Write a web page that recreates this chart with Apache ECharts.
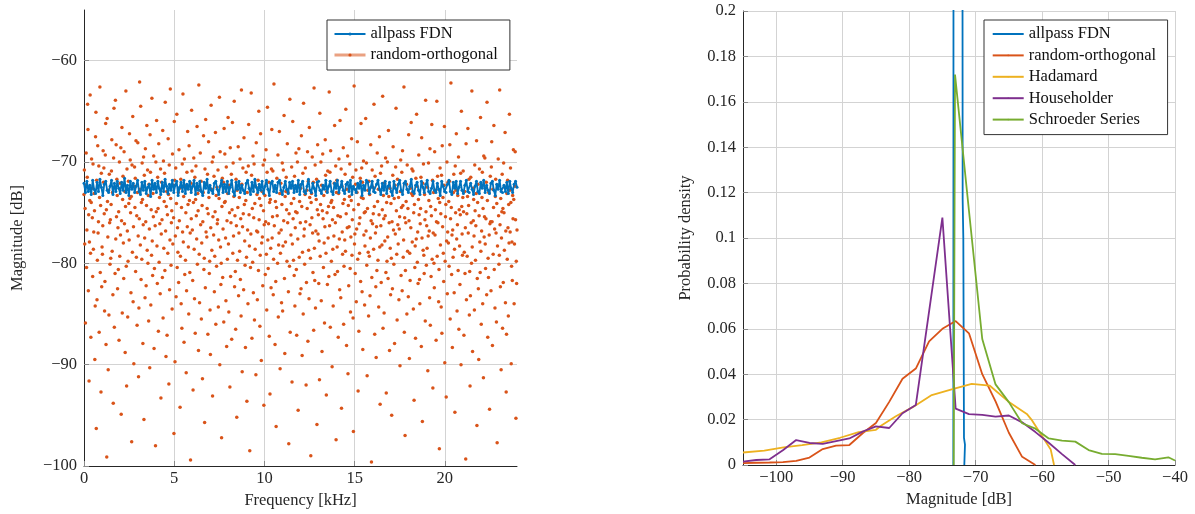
<!DOCTYPE html>
<html><head><meta charset="utf-8">
<script src="https://cdn.jsdelivr.net/npm/echarts@6/dist/echarts.min.js"></script>
<style>html,body{margin:0;padding:0;background:#fff}#c{width:1195px;height:514px}</style>
</head><body><div id="c"></div>
<script>
// ---------- Left plot: magnitude response per frequency bin ----------
const freqRangeKHz = [0, 24];
const allpassMagDb = [
-72.1,-73.0,-71.9,-72.9,-72.3,-73.2,-71.8,-72.7,-73.1,-72.0,
-72.9,-71.7,-72.5,-73.3,-72.2,-71.9,-72.8,-73.0,-72.4,-71.8,
-73.2,-72.1,-72.9,-71.9,-72.6,-73.1,-72.0,-72.8,-71.6,-73.0,
-72.3,-73.3,-71.9,-72.7,-72.1,-73.0,-72.4,-71.8,-72.9,-73.2,
-72.0,-72.8,-71.9,-73.1,-72.5,-72.2,-73.4,-71.8,-72.7,-72.1,
-73.0,-71.9,-72.6,-73.2,-72.0,-72.9,-71.7,-72.4,-73.1,-72.2,
-72.8,-71.8,-73.0,-72.3,-71.9,-73.3,-72.5,-72.0,-72.9,-71.8,
-73.1,-72.2,-72.7,-71.9,-73.0,-72.4,-71.8,-73.2,-72.1,-72.8,
-71.9,-72.9,-73.3,-72.0,-72.6,-71.7,-73.0,-72.3,-72.8,-73.1,
-72.1,-71.9,-72.7,-73.2,-72.4,-71.8,-73.0,-72.2,-72.9,-71.9,
-73.1,-72.5,-71.8,-72.9,-73.3,-72.0,-72.7,-71.9,-73.0,-72.3,
-72.8,-73.1,-72.1,-71.8,-72.6,-73.2,-72.0,-72.9,-71.7,-72.5,
-73.0,-72.2,-72.8,-71.9,-73.1,-72.4,-71.8,-72.7,-73.3,-72.1,
-71.9,-72.9,-72.3,-73.0,-72.0,-71.8,-72.8,-73.2,-72.5,-71.9,
-72.7,-73.1,-72.0,-72.6,-71.9,-73.0,-72.3,-72.9,-71.8,-73.2,
-72.2,-71.9,-72.9,-73.1,-72.4,-71.7,-72.8,-73.0,-72.1,-72.6,
-73.3,-72.0,-71.9,-72.8,-73.1,-72.3,-72.7,-71.8,-73.0,-72.4,
-71.9,-72.9,-73.2,-72.1,-72.6,-71.8,-73.0,-72.5,-71.9,-72.8,
-73.1,-72.2,-72.0,-72.9,-71.8,-73.2,-72.4,-72.7,-73.0,-72.1,
-72.6,-71.9,-73.3,-72.3,-72.8,-71.8,-72.0,-73.1,-72.5,-71.9,
-72.9,-73.0,-72.2,-71.8,-72.7,-73.2,-72.1,-72.8,-71.9,-73.1,
-72.4,-72.0,-72.9,-73.3,-71.9,-72.6,-73.0,-72.2,-71.8,-72.8,
-73.2,-72.1,-71.9,-72.7,-73.0,-72.4,-71.7,-72.9,-73.1,-72.3,
-72.0,-72.8,-73.2,-71.9,-72.5,-73.0,-72.2,-71.8,-72.9,-73.1,
-72.6,-71.9,-72.8,-73.0,-72.1,-72.7,-73.3,-71.9,-72.4,-72.9,
-73.0,-72.2,-71.8,-72.9,-73.2,-72.0,-72.6,-71.9,-73.1,-72.5,
-71.9,-72.8,-73.1,-72.3,-71.8,-72.9,-73.0,-72.1,-72.7,-73.2,
-72.4,-71.9,-72.9,-73.1,-72.0,-72.6,-71.8,-73.0,-72.3,-72.8,
-73.1,-72.1,-71.9,-72.8,-73.3,-72.2,-72.7,-71.8,-72.9,-73.0,
-72.3,-72.9,-72.0,-73.1,-71.9,-72.6,-73.0,-72.2,-71.9,-72.5
];
const randomOrthMagDb = [
-73.2,-70.8,-78.1,-74.6,-85.9,-72.3,-69.1,-80.4,-76.7,-71.5,
-64.3,-66.8,-82.7,-75.2,-91.6,-77.9,-73.8,-63.4,-79.0,-87.3,
-74.0,-69.7,-72.6,-75.5,-81.3,-70.2,-78.6,-76.9,-73.1,-74.8,
-89.5,-84.2,-67.5,-65.1,-96.3,-71.8,-83.6,-79.7,-68.4,-77.0,
-75.9,-70.4,-86.8,-73.5,-62.6,-80.9,-74.3,-92.7,-71.1,-82.3,
-78.4,-79.1,-76.3,-68.9,-72.0,-70.6,-75.1,-84.7,-81.8,-69.3,
-66.2,-88.0,-74.7,-99.1,-65.7,-73.9,-77.4,-90.5,-72.8,-85.1,
-71.2,-76.0,-80.1,-75.7,-79.5,-74.2,-70.9,-67.8,-78.8,-73.0,
-83.1,-93.8,-69.6,-64.7,-86.3,-72.5,-81.0,-63.9,-77.6,-68.3,
-75.4,-71.7,-73.3,-82.5,-76.5,-80.6,-74.9,-87.6,-70.0,-79.3,
-72.1,-77.2,-68.6,-94.9,-75.8,-66.6,-84.9,-73.7,-71.4,-78.0,
-81.5,-69.0,-76.1,-72.9,-88.8,-74.4,-63.0,-80.3,-92.1,-70.7,
-76.8,-85.3,-79.8,-71.9,-74.1,-77.7,-67.2,-73.6,-69.8,-75.0,
-82.9,-73.4,-97.6,-70.3,-78.9,-65.5,-83.8,-76.4,-89.9,-72.4,
-70.5,-74.5,-71.6,-80.8,-67.9,-79.4,-75.3,-86.1,-73.0,-68.1,
-77.3,-91.2,-84.4,-75.6,-62.1,-72.7,-78.2,-64.5,-81.6,-74.0,
-79.6,-70.1,-73.7,-87.9,-76.2,-69.5,-95.4,-71.3,-77.5,-83.4,
-68.7,-75.9,-82.2,-74.3,-66.4,-78.7,-70.8,-80.0,-73.3,-85.7,
-72.2,-76.6,-90.3,-67.3,-71.0,-84.1,-74.7,-79.2,-63.7,-77.8,
-81.2,-73.1,-75.4,-69.4,-88.4,-80.5,-72.6,-76.3,-98.0,-70.0,
-74.9,-65.9,-78.3,-82.0,-71.5,-74.6,-86.7,-68.2,-79.9,-73.5,
-76.1,-83.0,-70.7,-93.3,-77.1,-72.0,-75.7,-81.4,-66.9,-85.4,
-69.9,-78.5,-73.9,-71.1,-80.7,-64.1,-76.8,-89.2,-74.4,-72.9,
-87.1,-75.2,-79.0,-67.7,-73.2,-91.9,-70.3,-82.6,-77.7,-62.8,
-73.6,-80.2,-76.0,-74.8,-84.5,-69.2,-78.1,-72.3,-75.5,-96.8,
-66.0,-71.8,-89.7,-77.3,-70.6,-83.3,-74.1,-65.3,-80.4,-76.5,
-78.9,-73.0,-81.9,-68.8,-75.8,-72.6,-94.2,-79.3,-71.7,-84.0,
-74.5,-86.4,-70.2,-76.9,-63.3,-77.9,-73.4,-87.8,-69.7,-81.1,
-72.4,-79.7,-75.0,-90.8,-82.7,-71.0,-76.4,-67.0,-74.2,-78.4,
-85.0,-68.4,-73.8,-80.9,-77.0,-99.4,-72.1,-75.6,-64.9,-70.9,
-76.7,-81.7,-92.5,-74.0,-69.6,-78.6,-83.5,-71.5,-86.9,-73.7,
-70.4,-75.3,-77.6,-66.5,-80.1,-73.1,-74.8,-88.6,-62.4,-79.1,
-83.9,-72.8,-69.1,-76.2,-71.9,-85.5,-78.0,-74.3,-91.4,-75.9,
-73.0,-67.4,-80.6,-79.5,-95.7,-70.7,-82.4,-65.8,-76.9,-72.2,
-77.4,-74.6,-71.2,-87.0,-75.1,-68.0,-73.5,-81.0,-79.8,-84.6,
-89.0,-76.5,-64.4,-72.7,-78.7,-70.0,-93.1,-75.4,-69.5,-77.2,
-71.4,-82.8,-79.3,-74.9,-67.1,-86.0,-73.3,-80.3,-72.5,-76.1,
-75.7,-70.8,-84.3,-77.7,-73.6,-63.6,-90.0,-69.0,-78.4,-82.1,
-80.0,-97.2,-74.4,-71.6,-81.4,-76.6,-72.0,-85.8,-66.7,-74.0,
-69.2,-73.9,-77.5,-83.7,-70.5,-88.2,-75.8,-79.6,-73.1,-65.6,
-78.1,-84.8,-72.3,-75.0,-92.2,-68.6,-81.3,-76.0,-71.2,-87.5,
-74.7,-66.1,-79.0,-70.1,-77.3,-73.4,-64.0,-82.3,-75.3,-80.8,
-86.5,-71.7,-76.3,-95.2,-72.8,-79.7,-74.5,-68.5,-83.2,-77.0,
-73.5,-78.8,-69.7,-81.6,-75.6,-85.2,-62.9,-72.2,-90.7,-76.4,
-70.6,-75.1,-82.6,-67.6,-74.2,-77.8,-80.2,-88.3,-73.8,-71.0,
-79.4,-93.6,-73.0,-76.7,-84.0,-70.4,-66.3,-75.2,-78.3,-98.5,
-72.7,-80.4,-77.1,-63.2,-71.3,-87.4,-74.6,-79.9,-69.4,-82.9,
-75.5,-70.2,-85.6,-74.1,-78.6,-72.4,-91.0,-68.1,-76.8,-73.2,
-83.6,-76.9,-71.8,-80.7,-65.0,-75.7,-73.6,-86.2,-79.2,-67.2,
-74.3,-89.6,-78.0,-72.9,-77.4,-82.2,-70.3,-74.8,-94.0,-76.2,
-69.8,-73.3,-81.1,-75.9,-68.8,-79.1,-84.6,-71.0,-64.6,-77.7,
-80.5,-76.1,-72.0,-87.2,-74.0,-92.9,-73.7,-78.5,-82.4,-70.7,
-66.8,-77.5,-75.4,-70.9,-83.1,-79.6,-62.3,-76.3,-72.6,-88.0,
-73.9,-81.8,-96.1,-74.5,-71.6,-75.3,-80.0,-69.3,-85.3,-78.2,
-77.0,-67.0,-73.1,-90.4,-79.0,-72.1,-76.7,-83.9,-74.2,-70.1,
-84.7,-78.3,-70.8,-75.8,-65.4,-81.5,-88.9,-73.4,-77.9,-72.9,
-71.5,-74.7,-79.8,-68.2,-76.0,-73.0,-82.8,-97.8,-75.1,-80.3,
-63.8,-86.8,-72.5,-77.2,-74.1,-70.5,-91.7,-78.1,-66.0,-75.6,
-79.7,-73.6,-81.2,-71.4,-84.2,-76.5,-74.9,-69.1,-80.6,-87.1,
-75.0,-70.0,-77.6,-94.5,-72.3,-68.7,-79.4,-73.9,-83.0,-76.0,
-72.6,-82.5,-67.4,-74.4,-89.1,-78.9,-71.1,-85.0,-64.2,-77.3,
-76.6,-80.1,-73.2,-70.6,-75.9,-92.0,-81.9,-72.8,-74.6,-69.0,
-87.7,-71.9,-78.7,-83.5,-66.6,-73.5,-76.2,-79.5,-99.0,-74.0,
-73.1,-75.5,-69.5,-77.0,-80.9,-72.0,-86.6,-62.7,-78.5,-81.7,
-70.3,-84.4,-76.8,-73.7,-71.7,-95.9,-74.7,-68.3,-77.1,-75.2,
-82.0,-77.8,-91.5,-65.2,-79.3,-74.2,-70.0,-83.7,-72.3,-88.7,
-74.8,-69.2,-75.6,-80.4,-73.3,-78.0,-85.9,-76.4,-67.8,-71.3,
-79.0,-93.0,-72.9,-75.0,-82.1,-70.9,-77.5,-74.4,-81.3,-63.1,
-76.3,-71.0,-86.3,-68.9,-74.0,-79.8,-73.8,-90.2,-75.7,-78.6,
-84.2,-74.5,-77.3,-72.1,-66.4,-81.1,-76.0,-70.4,-97.4,-73.0,
-71.8,-78.4,-80.8,-75.3,-87.3,-73.1,-69.7,-77.6,-82.6,-65.9,
-75.4,-83.4,-70.7,-94.3,-72.4,-76.9,-79.1,-74.1,-68.6,-86.0,
-80.3,-73.7,-77.7,-71.2,-78.8,-64.8,-75.1,-88.1,-72.7,-76.5,
-69.4,-90.9,-74.3,-82.2,-76.4,-73.4,-70.2,-80.5,-84.8,-77.4,
-73.8,-67.7,-79.2,-75.7,-71.5,-85.4,-96.6,-74.7,-62.5,-78.1,
-77.1,-81.0,-72.2,-70.8,-83.8,-76.6,-73.0,-68.0,-79.6,-92.6,
-74.2,-86.7,-76.1,-79.0,-75.5,-71.6,-81.8,-66.2,-73.5,-70.6,
-82.8,-72.0,-88.5,-73.6,-69.9,-77.2,-75.0,-84.1,-78.3,-74.9,
-65.7,-76.8,-70.1,-80.2,-91.1,-74.6,-72.8,-78.9,-85.2,-71.9,
-79.3,-73.2,-83.2,-77.5,-68.3,-75.8,-99.6,-81.4,-70.8,-76.1,
-72.5,-75.1,-78.6,-64.3,-74.4,-87.0,-71.4,-77.0,-82.3,-89.3,
-76.4,-80.7,-69.1,-73.9,-79.7,-72.7,-84.3,-75.2,-67.5,-78.4,
-93.9,-71.1,-76.3,-81.9,-70.4,-78.2,-74.7,-63.5,-86.4,-73.3,
-75.6,-84.9,-72.1,-77.8,-75.3,-69.6,-80.9,-92.8,-74.0,-79.8,
-70.0,-77.4,-81.5,-66.9,-73.4,-76.0,-88.6,-72.6,-78.5,-83.1,
-74.1,-79.5,-95.0,-75.9,-82.5,-71.3,-68.5,-76.7,-80.1,-73.6,
-87.9,-72.3,-77.1,-70.5,-64.7,-74.8,-79.1,-85.6,-71.7,-76.2,
-78.1,-73.5,-83.6,-76.6,-75.4,-90.1,-72.9,-69.8,-81.2,-74.5,
-71.0,-82.7,-68.9,-74.3,-79.4,-77.7,-62.6,-86.8,-75.5,-97.0,
-80.7,-76.0,-73.9,-72.2,-85.0,-70.3,-78.8,-74.6,-83.3,-67.3,
-75.8,-89.4,-79.0,-81.7,-72.6,-76.5,-66.1,-73.1,-70.7,-77.9,
-73.3,-70.9,-84.5,-75.0,-93.5,-74.2,-80.4,-78.3,-87.4,-71.6,
-77.6,-65.3,-72.4,-79.9,-76.9,-82.0,-73.7,-69.3,-75.2,-81.6,
-84.0,-76.1,-74.6,-71.5,-88.2,-67.6,-77.5,-95.6,-72.1,-78.7,
-70.2,-79.2,-81.0,-73.2,-75.7,-85.7,-63.9,-74.9,-80.2,-76.3,
-78.5,-72.5,-90.6,-77.3,-70.1,-73.8,-76.8,-83.4,-68.7,-86.1,
-74.4,-81.3,-75.3,-66.3,-79.6,-71.8,-92.3,-77.0,-73.0,-80.0,
-82.4,-69.0,-77.2,-74.7,-72.8,-87.6,-75.9,-64.0,-79.3,-71.4,
-76.0,-73.6,-83.8,-80.6,-98.3,-74.0,-70.6,-78.2,-75.1,-84.3,
-71.3,-86.9,-68.4,-76.4,-73.5,-79.0,-81.8,-72.3,-66.5,-89.8,
-79.8,-75.4,-74.2,-93.2,-77.8,-70.0,-83.0,-76.9,-72.0,-78.0,
-73.9,-80.3,-71.9,-68.3,-85.5,-75.6,-62.2,-74.5,-81.1,-77.2,
-88.3,-76.7,-79.4,-73.0,-71.2,-82.9,-78.6,-94.7,-70.4,-75.0,
-72.8,-67.2,-77.6,-84.7,-76.2,-73.3,-80.7,-69.5,-86.5,-74.7,
-78.3,-82.1,-75.2,-71.1,-90.0,-65.0,-74.4,-77.1,-79.2,-73.5,
-70.9,-74.9,-87.1,-78.9,-72.9,-81.0,-76.5,-99.3,-68.2,-83.6,
-75.1,-79.3,-73.4,-66.7,-77.0,-74.3,-71.7,-85.1,-80.8,-92.1,
-83.2,-71.5,-76.0,-80.0,-63.0,-78.4,-88.7,-72.6,-75.8,-73.7,
-77.3,-84.6,-70.3,-74.8,-79.7,-76.3,-73.1,-67.9,-96.0,-81.5,
-74.0,-72.2,-82.5,-89.5,-75.3,-70.7,-77.9,-80.9,-65.6,-78.8,
-86.0,-76.8,-73.5,-71.0,-84.0,-74.6,-91.3,-69.4,-77.4,-75.4,
-69.6,-78.1,-80.5,-75.6,-72.0,-83.1,-64.1,-73.8,-87.3,-79.5,
-81.4,-73.0,-77.2,-94.4,-76.1,-71.4,-75.9,-82.7,-70.5,-68.0,
-75.9,-88.1,-72.7,-79.1,-74.5,-66.4,-80.6,-76.6,-84.4,-73.4,
-71.7,-77.0,-85.8,-74.1,-97.7,-78.3,-72.3,-69.7,-75.3,-80.1,
-79.2,-62.9,-76.2,-82.3,-73.6,-90.5,-77.5,-74.9,-71.2,-86.4,
-74.6,-81.9,-70.1,-75.0,-78.7,-72.5,-67.1,-83.9,-76.8,-92.7,
-87.0,-73.1,-79.6,-71.8,-76.5,-85.2,-74.2,-78.0,-65.3,-72.8,
-76.9,-70.6,-74.0,-89.9,-80.3,-77.9,-81.7,-73.3,-75.6,-68.8,
-73.7,-84.0,-78.1,-72.4,-69.0,-75.7,-95.3,-79.8,-82.0,-76.7
];
const freqTicks = [0, 5, 10, 15, 20];
const magTicksLeft = [-100, -90, -80, -70, -60];

// ---------- Right plot: probability density of magnitude ----------
const magTicksRight = [-100, -90, -80, -70, -60, -50, -40];
const densityTicks = [0, 0.02, 0.04, 0.06, 0.08, 0.1, 0.12, 0.14, 0.16, 0.18, 0.2];

const pdfAllpassX = [-73.35, -73.3, -72.05, -71.95, -71.85, -71.75, -71.6, -71.7];
const pdfAllpassY = [0, 0.55, 0.55, 0.117, 0.1, 0.012, 0.009, 0];

const pdfRandOrthX = [-105,-103,-101,-99,-97,-95,-93,-91,-89,-87,-85,-83,-81,-79,-77,-75,-73,-71,-69,-67,-65,-63,-61];
const pdfRandOrthY = [0.0008,0.0010,0.0011,0.0013,0.0018,0.0033,0.0070,0.0085,0.0088,0.0140,0.0185,0.0278,0.0380,0.0425,0.0545,0.0600,0.0634,0.0580,0.0400,0.0280,0.0142,0.0036,0.0000];

const pdfHadamardX = [-105,-101.8,-98.9,-96.1,-93.2,-90.4,-87.6,-85.0,-84.3,-82.0,-79.4,-76.6,-73.6,-70.6,-67.9,-65.1,-62.3,-61.6,-58.7,-58.2];
const pdfHadamardY = [0.0055,0.0063,0.0078,0.0088,0.0100,0.0120,0.0145,0.0155,0.0172,0.0215,0.0256,0.0308,0.0333,0.0357,0.0350,0.0280,0.0225,0.0200,0.0068,0];

const pdfHouseholderX = [-105,-103,-101,-99,-97,-95,-93,-91,-89,-87,-85,-83,-81,-79,-77,-75,-73,-71,-69,-67,-65,-63,-61,-59,-57,-55];
const pdfHouseholderY = [0.0015,0.0022,0.0025,0.0065,0.0110,0.0097,0.0093,0.0105,0.0117,0.0147,0.0170,0.0163,0.0228,0.0264,0.0677,0.1090,0.0248,0.0224,0.0221,0.0213,0.0218,0.0188,0.0145,0.0098,0.0048,0];

const pdfSchroederX = [-73.3,-73.1,-71,-69,-67,-65,-63,-61,-59,-57,-55,-53,-51,-49,-47,-45,-43,-41,-40];
const pdfSchroederY = [0,0.172,0.112,0.0555,0.0355,0.0277,0.0184,0.0160,0.0117,0.0107,0.0103,0.0066,0.0049,0.0048,0.0040,0.0032,0.0025,0.0034,0.0020];

// ---------- build ----------
const C = { blue:'#0072BD', orange:'#D95319', yellow:'#EDB120', purple:'#7E2F8E', green:'#77AC30' };
const FONT = "'Liberation Serif','DejaVu Serif',serif";
const FS = 16.5;
const TXT = '#262626';
const GRIDC = '#d3d3d3';

function binned(vals) {
  const n = vals.length, a = freqRangeKHz[0], b = freqRangeKHz[1];
  return vals.map((v, i) => [a + i * (b - a) / (n - 1), v]);
}
function zip(xs, ys) { return xs.map((x, i) => [x, ys[i]]); }
const minus = v => String(v).replace('-', '\u2212');

function axisBase(ticks, extra) {
  return Object.assign({
    type: 'value',
    axisLine: { show: true, onZero: false, lineStyle: { color: TXT, width: 1 } },
    axisTick: { show: true, inside: true, length: 5, customValues: ticks, lineStyle: { color: '#8a8a8a' } },
    axisLabel: { customValues: ticks, color: TXT, fontFamily: FONT, fontSize: FS, formatter: minus },
    splitLine: { show: true, lineStyle: { color: GRIDC, width: 1 } },
    nameLocation: 'middle',
    nameTextStyle: { color: TXT, fontFamily: FONT, fontSize: FS }
  }, extra);
}

const option = {
  animation: false,
  backgroundColor: '#fff',
  grid: [
    { left: 84, top: 10, width: 433, height: 456 },
    { left: 743, top: 11, width: 432, height: 454 }
  ],
  xAxis: [
    axisBase(freqTicks, { gridIndex: 0, min: 0, max: 24, name: 'Frequency [kHz]', nameGap: 26,
      axisLabel: { customValues: freqTicks, color: TXT, fontFamily: FONT, fontSize: FS, margin: 4, formatter: minus } }),
    axisBase(magTicksRight, { gridIndex: 1, min: -105, max: -40, name: 'Magnitude [dB]', nameGap: 26,
      axisLabel: { customValues: magTicksRight, color: TXT, fontFamily: FONT, fontSize: FS, margin: 4, formatter: minus } })
  ],
  yAxis: [
    axisBase(magTicksLeft, { gridIndex: 0, min: -100, max: -55, name: 'Magnitude [dB]', nameGap: 58,
      axisLabel: { customValues: magTicksLeft, color: TXT, fontFamily: FONT, fontSize: FS, margin: 7, formatter: minus } }),
    axisBase(densityTicks, { gridIndex: 1, min: 0, max: 0.2, name: 'Probability density', nameGap: 49,
      axisLabel: { customValues: densityTicks, color: TXT, fontFamily: FONT, fontSize: FS, margin: 7, formatter: minus } })
  ],
  legend: [
    {
      left: 327, top: 20, orient: 'vertical',
      padding: [5.5, 12, 6.5, 6], itemGap: 4, itemWidth: 31, itemHeight: 4,
      backgroundColor: '#fff', borderColor: '#333', borderWidth: 1, borderRadius: 0,
      textStyle: { color: '#111', fontFamily: FONT, fontSize: FS, lineHeight: 17 },
      selectedMode: false,
      data: [
        { name: 'allpass FDN' },
        { name: 'random-orthogonal', lineStyle: { opacity: 0.55, width: 3, color: C.orange } }
      ]
    },
    {
      left: 984, top: 20, orient: 'vertical',
      padding: [5.5, 11.5, 6.5, 7.7], itemGap: 4.4, itemWidth: 31, itemHeight: 2,
      backgroundColor: '#fff', borderColor: '#333', borderWidth: 1, borderRadius: 0,
      textStyle: { color: '#111', fontFamily: FONT, fontSize: FS, lineHeight: 17 },
      selectedMode: false,
      formatter: n => n.trim(),
      data: ['allpass FDN ', 'random-orthogonal ', 'Hadamard ', 'Householder ', 'Schroeder Series ']
    }
  ],
  series: [
    { name: 'allpass FDN', type: 'line', xAxisIndex: 0, yAxisIndex: 0, silent: true,
      data: binned(allpassMagDb), symbol: 'circle', symbolSize: 3, showSymbol: true, showAllSymbol: true,
      lineStyle: { width: 1.8, color: C.blue }, itemStyle: { color: C.blue } },
    // legend entry look (line + marker) for the random-orthogonal scatter
    { name: 'random-orthogonal', type: 'line', xAxisIndex: 0, yAxisIndex: 0, silent: true,
      data: [], symbol: 'circle', lineStyle: { width: 3, opacity: 0.55, color: C.orange }, itemStyle: { color: C.orange } },
    { name: 'random-orthogonal', id: 'ro-scatter', type: 'scatter', xAxisIndex: 0, yAxisIndex: 0, silent: true,
      data: binned(randomOrthMagDb), symbol: 'circle', symbolSize: 3.5, large: false,
      itemStyle: { color: C.orange, opacity: 1 } },

    { name: 'allpass FDN ', type: 'line', xAxisIndex: 1, yAxisIndex: 1, silent: true, symbol: 'none',
      data: zip(pdfAllpassX, pdfAllpassY), lineStyle: { width: 1.8, color: C.blue }, itemStyle: { color: C.blue } },
    { name: 'random-orthogonal ', type: 'line', xAxisIndex: 1, yAxisIndex: 1, silent: true, symbol: 'none',
      data: zip(pdfRandOrthX, pdfRandOrthY), lineStyle: { width: 1.8, color: C.orange }, itemStyle: { color: C.orange } },
    { name: 'Hadamard ', type: 'line', xAxisIndex: 1, yAxisIndex: 1, silent: true, symbol: 'none',
      data: zip(pdfHadamardX, pdfHadamardY), lineStyle: { width: 1.8, color: C.yellow }, itemStyle: { color: C.yellow } },
    { name: 'Householder ', type: 'line', xAxisIndex: 1, yAxisIndex: 1, silent: true, symbol: 'none',
      data: zip(pdfHouseholderX, pdfHouseholderY), lineStyle: { width: 1.8, color: C.purple }, itemStyle: { color: C.purple } },
    { name: 'Schroeder Series ', type: 'line', xAxisIndex: 1, yAxisIndex: 1, silent: true, symbol: 'none',
      data: zip(pdfSchroederX, pdfSchroederY), lineStyle: { width: 1.8, color: C.green }, itemStyle: { color: C.green } }
  ]
};

const chart = echarts.init(document.getElementById('c'), null, { renderer: 'canvas' });
chart.setOption(option);
</script>
</body></html>
